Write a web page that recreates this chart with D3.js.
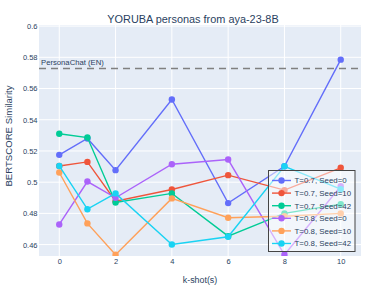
<!DOCTYPE html>
<html><head><meta charset="utf-8">
<script src="https://cdn.jsdelivr.net/npm/d3@7"></script>
<style>body{margin:0;background:#fff;}svg{display:block;font-family:"Liberation Sans",Arial,sans-serif;}</style>
</head><body><svg id="c" width="387" height="291"></svg>
<script>
const kShots = [0, 1, 2, 4, 6, 8, 10];
const seriesNames = ["T=0.7, Seed=0","T=0.7, Seed=10","T=0.7, Seed=42","T=0.8, Seed=0","T=0.8, Seed=10","T=0.8, Seed=42"];
const seriesColors = ["#636efa","#EF553B","#00cc96","#ab63fa","#FFA15A","#19d3f3"];
const t07s0  = [0.5175, 0.528, 0.5077, 0.553, 0.4866, 0.5102, 0.5785];
const t07s10 = [0.5104, 0.513, 0.4878, 0.4953, 0.5045, 0.4949, 0.5092];
const t07s42 = [0.531, 0.5286, 0.487, 0.4928, 0.4654, 0.480, 0.4859];
const t08s0  = [0.4729, 0.5004, 0.490, 0.5115, 0.5145, 0.4535, 0.4974];
const t08s10 = [0.5062, 0.4736, 0.4535, 0.4896, 0.4772, 0.4782, 0.480];
const t08s42 = [0.5104, 0.4827, 0.4928, 0.4601, 0.465, 0.5102, 0.4955];
const seriesValues = [t07s0, t07s10, t07s42, t08s0, t08s10, t08s42];
const baselineValue = 0.5728;
const baselineLabel = "PersonaChat (EN)";
const yTicks = [0.46, 0.48, 0.5, 0.52, 0.54, 0.56, 0.58, 0.6];
const xTicks = [0, 2, 4, 6, 8, 10];

const FF = '"Liberation Sans",Arial,sans-serif';
const svg = d3.select("#c");
const L = 39, R = 361, T = 25, B = 256;
const x = d3.scaleLinear().domain([-0.72, 10.72]).range([L, R]);
const y = d3.scaleLinear().domain([0.4527, 0.6007]).range([B, T]);
const txt = "#2a3f5f";

svg.append("rect").attr("x", L).attr("y", T).attr("width", R - L).attr("height", B - T).attr("fill", "#e5ecf6");
svg.append("defs").append("clipPath").attr("id", "clip").append("rect").attr("x", L).attr("y", T).attr("width", R - L).attr("height", B - T);

const g = svg.append("g");
g.selectAll(".gy").data(yTicks).join("line").attr("x1", L).attr("x2", R)
  .attr("y1", d => y(d)).attr("y2", d => y(d)).attr("stroke", "#fff").attr("stroke-width", 1);
g.selectAll(".gx").data(xTicks).join("line").attr("y1", T).attr("y2", B)
  .attr("x1", d => x(d)).attr("x2", d => x(d)).attr("stroke", "#fff").attr("stroke-width", 1);

const yAxis = d3.axisLeft(y).tickValues(yTicks).tickSize(0).tickPadding(1.5).tickFormat(d => d3.format("")(+d.toFixed(2)));
const ya = svg.append("g").attr("transform", `translate(${L},0)`).call(yAxis);
ya.select(".domain").remove();
ya.selectAll("text").attr("fill", txt).attr("font-size", 7.5).attr("font-family", FF);
const xAxis = d3.axisBottom(x).tickValues(xTicks).tickSize(0).tickPadding(3);
const xa = svg.append("g").attr("transform", `translate(0,${B})`).call(xAxis);
xa.select(".domain").remove();
xa.selectAll("text").attr("fill", txt).attr("font-size", 7.5).attr("font-family", FF);

const cg = svg.append("g").attr("clip-path", "url(#clip)");
cg.append("line").attr("x1", L).attr("x2", R).attr("y1", y(baselineValue)).attr("y2", y(baselineValue))
  .attr("stroke", "#808080").attr("stroke-width", 1.5).attr("stroke-dasharray", "7,5");
svg.append("text").attr("x", L + 2).attr("y", y(baselineValue) - 3.5).attr("font-size", 7.7).attr("fill", txt).text(baselineLabel);

const line = d3.line().x((d, i) => x(kShots[i])).y(d => y(d));
seriesValues.forEach((vals, si) => {
  const sg = cg.append("g");
  sg.append("path").attr("d", line(vals)).attr("fill", "none").attr("stroke", seriesColors[si]).attr("stroke-width", 1.4);
  sg.selectAll("circle").data(vals).join("circle").attr("cx", (d, i) => x(kShots[i])).attr("cy", d => y(d))
    .attr("r", 3.2).attr("fill", seriesColors[si]);
});

svg.append("text").attr("x", 193).attr("y", 22.5).attr("text-anchor", "middle").attr("font-size", 10.9).attr("fill", txt)
  .text("YORUBA personas from aya-23-8B");
svg.append("text").attr("x", 200).attr("y", 282.5).attr("text-anchor", "middle").attr("font-size", 8.9).attr("fill", txt).text("k-shot(s)");
svg.append("text").attr("transform", `translate(12,136) rotate(-90)`).attr("text-anchor", "middle")
  .attr("font-size", 9.6).attr("fill", txt).text("BERTSCORE Similarity");

const lg = svg.append("g");
lg.append("rect").attr("x", 268.5).attr("y", 170.5).attr("width", 86.5).attr("height", 81)
  .attr("fill", "rgba(255,255,255,0.5)").attr("stroke", "#444").attr("stroke-width", 1);
seriesNames.forEach((n, i) => {
  const yy = 180.5 + i * 12.6;
  lg.append("line").attr("x1", 272).attr("x2", 291).attr("y1", yy).attr("y2", yy).attr("stroke", seriesColors[i]).attr("stroke-width", 1.4);
  lg.append("circle").attr("cx", 281.5).attr("cy", yy).attr("r", 3.2).attr("fill", seriesColors[i]);
  lg.append("text").attr("x", 294.5).attr("y", yy + 2.8).attr("font-size", 7.9).attr("fill", txt).text(n);
});
</script></body></html>
